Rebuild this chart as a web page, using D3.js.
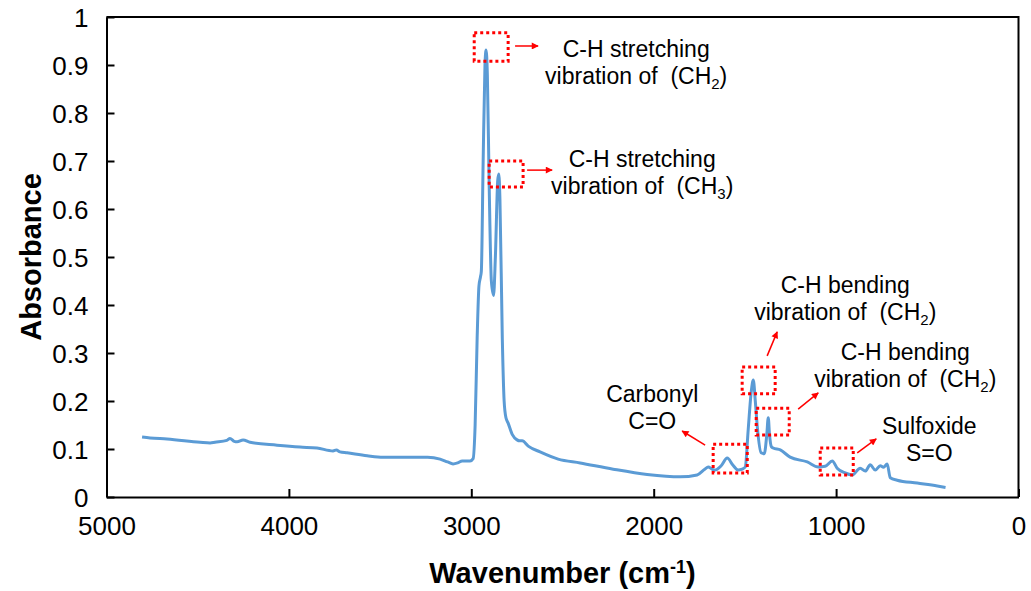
<!DOCTYPE html>
<html>
<head>
<meta charset="utf-8">
<script src="https://cdn.jsdelivr.net/npm/d3@7"></script>
<style>
  body { margin: 0; background: #fff; }
  svg { display: block; font-family: "Liberation Sans", Arial, sans-serif; }
  text { white-space: pre; }
</style>
</head>
<body>
<svg width="1031" height="591"></svg>
<script>
// spectrum (cm-1, absorbance)
var wavenumber = [4805, 4761, 4668, 4487, 4432, 4405, 4340, 4323, 4300, 4284, 4251, 4213, 4065, 3939, 3846, 3758, 3740, 3720, 3681, 3571, 3484, 3297, 3240, 3171, 3130, 3100, 3075, 3050, 3007, 2990,
  2979, 2968, 2958, 2950, 2945, 2935, 2925, 2919, 2912, 2902, 2890, 2878, 2868, 2855, 2849, 2843, 2830, 2820, 2810, 2798, 2775, 2749, 2735, 2721, 2688, 2623, 2524, 2403, 2222, 2036,
  1855, 1762, 1720, 1701, 1680, 1663, 1630, 1597, 1565, 1537, 1515, 1498, 1482, 1465, 1454, 1443, 1432, 1411, 1394, 1380, 1372, 1365, 1355, 1345, 1306, 1252, 1158, 1098, 1060, 1021,
  994, 950, 912, 868, 840, 813, 785, 758, 740, 720, 703, 665, 555, 445, 400];
var absorbance = [0.125, 0.123, 0.121, 0.114, 0.1125, 0.114, 0.118, 0.122, 0.116, 0.115, 0.119, 0.114, 0.108, 0.104, 0.102, 0.096, 0.098, 0.094, 0.092, 0.086, 0.083, 0.083, 0.083, 0.079, 0.073, 0.069, 0.071, 0.075, 0.075, 0.08,
  0.15, 0.33, 0.44, 0.458, 0.47, 0.7, 0.9, 0.931, 0.88, 0.65, 0.45, 0.42, 0.5, 0.66, 0.673, 0.62, 0.33, 0.2, 0.165, 0.154, 0.13, 0.119, 0.117, 0.117, 0.106, 0.094, 0.079, 0.071, 0.058, 0.047,
  0.042, 0.046, 0.058, 0.0625, 0.058, 0.056, 0.065, 0.081, 0.066, 0.056, 0.058, 0.0625, 0.14, 0.22, 0.244, 0.2, 0.146, 0.092, 0.09, 0.13, 0.165, 0.13, 0.105, 0.102, 0.098, 0.083, 0.073, 0.0625, 0.064, 0.075,
  0.06, 0.05, 0.046, 0.06, 0.054, 0.067, 0.056, 0.065, 0.062, 0.069, 0.04, 0.035, 0.029, 0.023, 0.02];

var xTicks = [5000, 4000, 3000, 2000, 1000, 0];
var yTicks = [0, 0.1, 0.2, 0.3, 0.4, 0.5, 0.6, 0.7, 0.8, 0.9, 1];

// annotations: label lines, dotted box and arrow, all in data units
var labelLines = [
  ["C-H stretching", "vibration of  (CH|2|)"],
  ["C-H stretching", "vibration of  (CH|3|)"],
  ["C-H bending", "vibration of  (CH|2|)"],
  ["C-H bending", "vibration of  (CH|2|)"],
  ["Carbonyl", "C=O"],
  ["Sulfoxide", "S=O"]
];
var labelPos = [[2096, 0.9167], [2063, 0.6875], [950, 0.425], [621, 0.2854], [2008, 0.1979], [489, 0.1312]];
var boxes = [[2984, 0.967, 2798, 0.908], [2902, 0.70, 2716, 0.646], [1515, 0.271, 1334, 0.215],
  [1438, 0.185, 1257, 0.129], [1674, 0.110, 1487, 0.050], [1087, 0.102, 906, 0.046]];
var arrows = [[2760, 0.9396, 2634, 0.9396], [2694, 0.681, 2557, 0.681], [1378, 0.294, 1323, 0.344],
  [1208, 0.183, 1098, 0.217], [1718, 0.108, 1844, 0.1375], [884, 0.092, 780, 0.121]];

var svg = d3.select("svg");
var margin = { left: 106.5, right: 12.5, top: 17, bottom: 94 };
var width = +svg.attr("width"), height = +svg.attr("height");

var x = d3.scaleLinear().domain([5000, 0]).range([margin.left, width - margin.right]);
var y = d3.scaleLinear().domain([0, 1]).range([height - margin.bottom, margin.top]);

var defs = svg.append("defs");
defs.append("marker")
  .attr("id", "arrow")
  .attr("viewBox", "0 0 10 10")
  .attr("refX", 9).attr("refY", 5)
  .attr("markerWidth", 9).attr("markerHeight", 7)
  .attr("markerUnits", "userSpaceOnUse")
  .attr("orient", "auto")
  .append("path").attr("d", "M0,0L10,5L0,10z").attr("fill", "#ff0000");

// frame (top + right)
svg.append("path")
  .attr("d", "M" + x(5000) + "," + y(1) + "H" + x(0) + "V" + y(0))
  .attr("fill", "none").attr("stroke", "#000").attr("stroke-width", 2);

// axes
var xAxis = svg.append("g").attr("transform", "translate(0," + y(0) + ")")
  .call(d3.axisBottom(x).tickValues(xTicks).tickSizeInner(-8).tickSizeOuter(0).tickPadding(38)
    .tickFormat(d3.format("d")));
var yAxis = svg.append("g").attr("transform", "translate(" + x(5000) + ",0)")
  .call(d3.axisLeft(y).tickValues(yTicks).tickSizeInner(-8).tickSizeOuter(0).tickPadding(18)
    .tickFormat(function (d) { return String(+d.toFixed(1)); }));

[xAxis, yAxis].forEach(function (a) {
  a.select(".domain").attr("stroke", "#000").attr("stroke-width", 2);
  a.selectAll(".tick line").attr("stroke", "#000").attr("stroke-width", 2);
  a.selectAll(".tick text").attr("fill", "#000").style("font-size", "26px");
});
yAxis.selectAll(".tick text").attr("dy", "0.36em");
xAxis.selectAll(".tick text").attr("dy", "0");

// axis titles
svg.append("text")
  .attr("x", (x.range()[0] + x.range()[1]) / 2)
  .attr("y", 583)
  .attr("text-anchor", "middle")
  .style("font-size", "29px").style("font-weight", "bold")
  .call(function (t) {
    t.append("tspan").text("Wavenumber (cm");
    t.append("tspan").attr("dy", -10).style("font-size", "18px").text("-1");
    t.append("tspan").attr("dy", 10).text(")");
  });

svg.append("text")
  .attr("transform", "translate(41," + (y.range()[0] + y.range()[1]) / 2 + ") rotate(-90)")
  .attr("text-anchor", "middle")
  .style("font-size", "29px").style("font-weight", "bold")
  .text("Absorbance");

// spectrum line
var points = wavenumber.map(function (w, i) { return [w, absorbance[i]]; });
svg.append("path")
  .datum(points)
  .attr("fill", "none")
  .attr("stroke", "#5B9BD5")
  .attr("stroke-width", 3)
  .attr("stroke-linejoin", "round")
  .attr("d", d3.line().x(function (d) { return x(d[0]); }).y(function (d) { return y(d[1]); }).curve(d3.curveMonotoneX));

// annotation boxes
svg.append("g").selectAll("rect")
  .data(boxes).enter().append("rect")
  .attr("x", function (d) { return x(d[0]); })
  .attr("y", function (d) { return y(d[1]); })
  .attr("width", function (d) { return x(d[2]) - x(d[0]); })
  .attr("height", function (d) { return y(d[3]) - y(d[1]); })
  .attr("fill", "none")
  .attr("stroke", "#ff0000")
  .attr("stroke-width", 3)
  .attr("stroke-dasharray", "3,3");

// arrows
svg.append("g").selectAll("line")
  .data(arrows).enter().append("line")
  .attr("x1", function (d) { return x(d[0]); })
  .attr("y1", function (d) { return y(d[1]); })
  .attr("x2", function (d) { return x(d[2]); })
  .attr("y2", function (d) { return y(d[3]); })
  .attr("stroke", "#ff0000")
  .attr("stroke-width", 1.5)
  .attr("marker-end", "url(#arrow)");

// labels, "|" marks subscript
var labels = svg.append("g").selectAll("text")
  .data(labelLines).enter().append("text")
  .attr("text-anchor", "middle")
  .style("font-size", "23px")
  .attr("fill", "#000");

labels.each(function (lines, i) {
  var t = d3.select(this);
  var px = x(labelPos[i][0]), py = y(labelPos[i][1]);
  lines.forEach(function (line, j) {
    var parts = line.split("|");
    t.append("tspan").attr("x", px).attr("y", py + j * 27).text(parts[0]);
    if (parts.length > 1) {
      t.append("tspan").attr("dy", 5).style("font-size", "15px").text(parts[1]);
      t.append("tspan").attr("dy", -5).text(parts[2]);
    }
  });
});
</script>
</body>
</html>
